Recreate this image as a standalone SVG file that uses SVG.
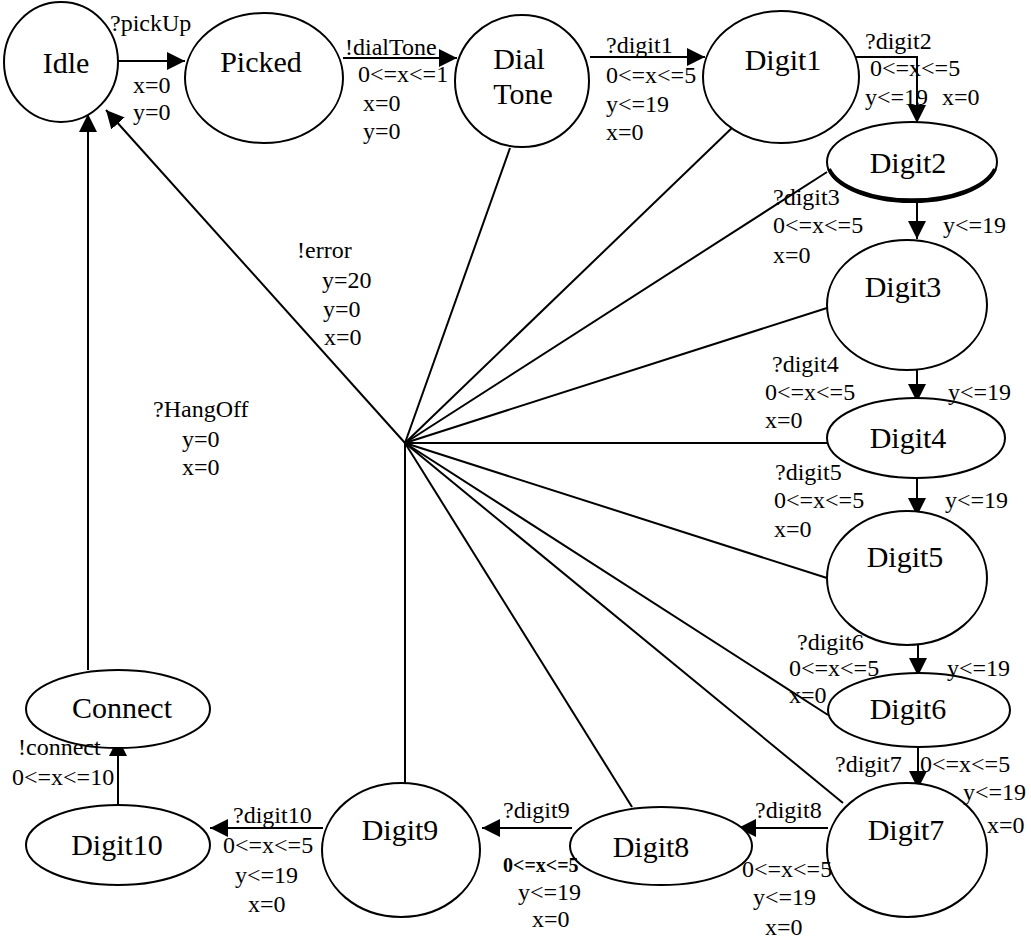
<svg xmlns="http://www.w3.org/2000/svg" width="1031" height="939" viewBox="0 0 1031 939">
  <style>
    .node { fill: #ffffff; stroke: #000000; stroke-width: 2; }
    .name { font-family: "Liberation Serif", "Times New Roman", serif; font-size: 30px; fill: #000000; text-anchor: middle; }
    .lbl { font-family: "Liberation Serif", "Times New Roman", serif; font-size: 24px; fill: #000000; }
    .lblb { font-family: "Liberation Serif", "Times New Roman", serif; font-size: 20px; font-weight: bold; fill: #000000; }
    .edge { fill: none; stroke: #000000; stroke-width: 2; }
    .arrow { marker-end: url(#head); }
  </style>
  <defs>
    <marker id="head" markerUnits="userSpaceOnUse" markerWidth="20" markerHeight="20" refX="18" refY="9" orient="auto">
      <path d="M0,0 L18,9 L0,18 z" fill="#000000"/>
    </marker>
  </defs>

  <rect width="1031" height="939" fill="#ffffff"/>

  <!-- transitions -->
  <g id="connectors">
    <line class="edge arrow" x1="118" y1="61" x2="185" y2="61"/>
    <line class="edge arrow" x1="343" y1="58" x2="457" y2="58"/>
    <line class="edge arrow" x1="590" y1="57" x2="705" y2="57"/>
    <polyline class="edge arrow" points="855,57 917,57 917,123"/>
    <line class="edge arrow" x1="917" y1="193" x2="917" y2="239"/>
    <line class="edge arrow" x1="917" y1="352" x2="917" y2="402"/>
    <line class="edge arrow" x1="917" y1="465" x2="917" y2="516"/>
    <line class="edge arrow" x1="918" y1="625" x2="918" y2="676"/>
    <line class="edge arrow" x1="918" y1="737" x2="918" y2="789"/>
    <line class="edge arrow" x1="828" y1="828" x2="738" y2="828"/>
    <line class="edge arrow" x1="572" y1="828" x2="482" y2="828"/>
    <line class="edge arrow" x1="323" y1="828" x2="210" y2="828"/>
    <line class="edge arrow" x1="118" y1="817" x2="118" y2="738"/>
    <line class="edge arrow" x1="88" y1="670" x2="88" y2="114"/>
    <!-- error edges gathered at one point -->
    <line class="edge arrow" x1="405" y1="443" x2="106" y2="110"/>
    <line class="edge" x1="405" y1="443" x2="510" y2="148"/>
    <line class="edge" x1="405" y1="443" x2="735" y2="125"/>
    <line class="edge" x1="405" y1="443" x2="827" y2="172"/>
    <line class="edge" x1="405" y1="443" x2="827" y2="308"/>
    <line class="edge" x1="405" y1="443" x2="827" y2="443"/>
    <line class="edge" x1="405" y1="443" x2="827" y2="578"/>
    <line class="edge" x1="405" y1="443" x2="828" y2="715"/>
    <line class="edge" x1="405" y1="443" x2="843" y2="803"/>
    <line class="edge" x1="405" y1="443" x2="632" y2="807"/>
    <line class="edge" x1="405" y1="443" x2="405" y2="783"/>
  </g>

  <!-- states -->
  <g id="idle">
    <ellipse class="node" cx="61" cy="62" rx="57" ry="60"/>
    <text class="name" x="66" y="73">Idle</text>
  </g>
  <g id="picked">
    <ellipse class="node" cx="264" cy="78" rx="79" ry="65"/>
    <text class="name" x="261" y="72">Picked</text>
  </g>
  <g id="dialtone">
    <ellipse class="node" cx="522" cy="81" rx="67" ry="66"/>
    <text class="name" x="519" y="69">Dial</text>
    <text class="name" x="523" y="104">Tone</text>
  </g>
  <g id="digit1">
    <ellipse class="node" cx="781" cy="77" rx="78" ry="66"/>
    <text class="name" x="783" y="70">Digit1</text>
  </g>
  <g id="digit2">
    <ellipse class="node" cx="912" cy="162" rx="85" ry="40"/>
    <path d="M829,168 A85,40 0 0,0 995,168" fill="none" stroke="#000000" stroke-width="4" transform="translate(0,1)"/>
    <text class="name" x="908" y="173">Digit2</text>
  </g>
  <g id="digit3">
    <ellipse class="node" cx="907" cy="305" rx="80" ry="65"/>
    <text class="name" x="903" y="297">Digit3</text>
  </g>
  <g id="digit4">
    <ellipse class="node" cx="916" cy="438" rx="89" ry="40"/>
    <text class="name" x="908" y="448">Digit4</text>
  </g>
  <g id="digit5">
    <ellipse class="node" cx="907" cy="578" rx="80" ry="67"/>
    <text class="name" x="905" y="567">Digit5</text>
  </g>
  <g id="digit6">
    <ellipse class="node" cx="919" cy="710" rx="91" ry="37"/>
    <text class="name" x="908" y="719">Digit6</text>
  </g>
  <g id="digit7">
    <ellipse class="node" cx="907" cy="850" rx="80" ry="67"/>
    <text class="name" x="906" y="840">Digit7</text>
  </g>
  <g id="digit8">
    <ellipse class="node" cx="661" cy="846" rx="91" ry="39"/>
    <text class="name" x="651" y="857">Digit8</text>
  </g>
  <g id="digit9">
    <ellipse class="node" cx="401" cy="850" rx="79" ry="67"/>
    <text class="name" x="400" y="840">Digit9</text>
  </g>
  <g id="digit10">
    <ellipse class="node" cx="118" cy="845" rx="92" ry="40"/>
    <text class="name" x="117" y="855">Digit10</text>
  </g>
  <g id="connect">
    <ellipse class="node" cx="118" cy="709" rx="92" ry="39"/>
    <text class="name" x="122" y="718">Connect</text>
  </g>

  <!-- transition labels -->
  <g id="labels">
    <text class="lbl" x="110" y="31">?pickUp</text>
    <text class="lbl" x="133" y="93">x=0</text>
    <text class="lbl" x="133" y="120">y=0</text>

    <text class="lbl" x="345" y="55">!dialTone</text>
    <text class="lbl" x="358" y="82">0&lt;=x&lt;=1</text>
    <text class="lbl" x="363" y="111">x=0</text>
    <text class="lbl" x="363" y="139">y=0</text>

    <text class="lbl" x="606" y="53">?digit1</text>
    <text class="lbl" x="606" y="83">0&lt;=x&lt;=5</text>
    <text class="lbl" x="606" y="112">y&lt;=19</text>
    <text class="lbl" x="606" y="140">x=0</text>

    <text class="lbl" x="865" y="49">?digit2</text>
    <text class="lbl" x="870" y="76">0&lt;=x&lt;=5</text>
    <text class="lbl" x="865" y="105">y&lt;=19</text>
    <text class="lbl" x="942" y="105">x=0</text>

    <text class="lbl" x="773" y="205">?digit3</text>
    <text class="lbl" x="773" y="233">0&lt;=x&lt;=5</text>
    <text class="lbl" x="773" y="263">x=0</text>
    <text class="lbl" x="943" y="233">y&lt;=19</text>

    <text class="lbl" x="772" y="372">?digit4</text>
    <text class="lbl" x="765" y="400">0&lt;=x&lt;=5</text>
    <text class="lbl" x="765" y="428">x=0</text>
    <text class="lbl" x="948" y="400">y&lt;=19</text>

    <text class="lbl" x="775" y="480">?digit5</text>
    <text class="lbl" x="774" y="508">0&lt;=x&lt;=5</text>
    <text class="lbl" x="774" y="537">x=0</text>
    <text class="lbl" x="945" y="508">y&lt;=19</text>

    <text class="lbl" x="797" y="650">?digit6</text>
    <text class="lbl" x="789" y="676">0&lt;=x&lt;=5</text>
    <text class="lbl" x="789" y="703">x=0</text>
    <text class="lbl" x="947" y="676">y&lt;=19</text>

    <text class="lbl" x="835" y="772">?digit7</text>
    <text class="lbl" x="920" y="772">0&lt;=x&lt;=5</text>
    <text class="lbl" x="963" y="800">y&lt;=19</text>
    <text class="lbl" x="987" y="833">x=0</text>

    <text class="lbl" x="755" y="818">?digit8</text>
    <text class="lbl" x="742" y="877">0&lt;=x&lt;=5</text>
    <text class="lbl" x="753" y="905">y&lt;=19</text>
    <text class="lbl" x="765" y="935">x=0</text>

    <text class="lbl" x="503" y="818">?digit9</text>
    <text class="lblb" x="503" y="872">0&lt;=x&lt;=5</text>
    <text class="lbl" x="518" y="900">y&lt;=19</text>
    <text class="lbl" x="532" y="927">x=0</text>

    <text class="lbl" x="233" y="823">?digit10</text>
    <text class="lbl" x="223" y="853">0&lt;=x&lt;=5</text>
    <text class="lbl" x="235" y="883">y&lt;=19</text>
    <text class="lbl" x="248" y="912">x=0</text>

    <text class="lbl" x="18" y="755">!connect</text>
    <text class="lbl" x="12" y="785">0&lt;=x&lt;=10</text>

    <text class="lbl" x="297" y="258">!error</text>
    <text class="lbl" x="322" y="288">y=20</text>
    <text class="lbl" x="323" y="317">y=0</text>
    <text class="lbl" x="324" y="345">x=0</text>

    <text class="lbl" x="153" y="417">?HangOff</text>
    <text class="lbl" x="182" y="447">y=0</text>
    <text class="lbl" x="182" y="475">x=0</text>
  </g>
</svg>
